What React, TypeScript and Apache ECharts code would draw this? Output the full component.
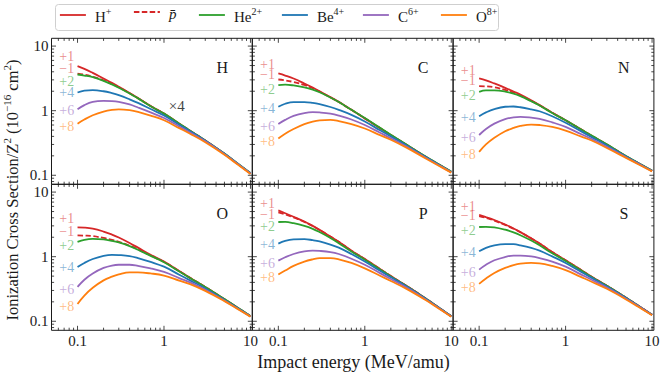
import { useEffect, useRef } from "react";
import * as echarts from "echarts";

// ---------------- data ----------------
const energies = [0.1, 0.12, 0.15, 0.2, 0.25, 0.3, 0.4, 0.5, 0.7, 1, 1.5, 2, 3, 5, 7, 10];
const targets = ["H", "C", "N", "O", "P", "S"];
const projectiles = ["H+", "pbar", "He2+", "Be4+", "C6+", "O8+"];
const chargeLabels = ["+1", "\u22121", "+2", "+4", "+6", "+8"];

// rows: H, C, N, O, P, S targets
const protonXS = [
  [4.9, 4.45, 3.85, 3.15, 2.7, 2.35, 1.88, 1.57, 1.18, 0.9, 0.63, 0.49, 0.345, 0.215, 0.153, 0.107],
  [3.77, 3.5, 3.15, 2.64, 2.28, 2.0, 1.62, 1.37, 1.03, 0.76, 0.537, 0.42, 0.3, 0.195, 0.15, 0.113],
  [3.15, 2.95, 2.64, 2.26, 1.98, 1.78, 1.45, 1.22, 0.93, 0.71, 0.515, 0.41, 0.3, 0.197, 0.153, 0.117],
  [2.84, 2.82, 2.72, 2.45, 2.2, 1.98, 1.63, 1.38, 1.07, 0.84, 0.598, 0.47, 0.34, 0.22, 0.164, 0.12],
  [5.2, 4.7, 4.15, 3.5, 3.0, 2.6, 2.05, 1.7, 1.24, 0.92, 0.644, 0.5, 0.357, 0.228, 0.167, 0.12],
  [4.46, 4.1, 3.7, 3.15, 2.73, 2.4, 1.92, 1.6, 1.18, 0.88, 0.625, 0.49, 0.355, 0.232, 0.173, 0.126],
];
const antiprotonXS = [
  [3.75, 3.6, 3.35, 2.95, 2.6, 2.3, 1.86, 1.56, 1.18, 0.9, 0.63, 0.49, 0.345, 0.215, 0.153, 0.107],
  [3.04, 2.95, 2.78, 2.5, 2.22, 1.97, 1.61, 1.36, 1.03, 0.76, 0.537, 0.42, 0.3, 0.195, 0.15, 0.113],
  [2.4, 2.38, 2.3, 2.1, 1.9, 1.72, 1.42, 1.21, 0.93, 0.71, 0.515, 0.41, 0.3, 0.197, 0.153, 0.117],
  [2.14, 2.12, 2.08, 1.95, 1.82, 1.7, 1.48, 1.3, 1.04, 0.83, 0.598, 0.47, 0.34, 0.22, 0.164, 0.12],
  [4.85, 4.5, 4.05, 3.45, 2.98, 2.6, 2.05, 1.7, 1.24, 0.92, 0.644, 0.5, 0.357, 0.228, 0.167, 0.12],
  [4.26, 3.98, 3.62, 3.1, 2.71, 2.39, 1.92, 1.6, 1.18, 0.88, 0.625, 0.49, 0.355, 0.232, 0.173, 0.126],
];
const heliumXS = [
  [3.63, 3.5, 3.3, 2.9, 2.55, 2.27, 1.85, 1.55, 1.17, 0.9, 0.63, 0.49, 0.347, 0.217, 0.155, 0.109],
  [2.49, 2.53, 2.46, 2.3, 2.12, 1.93, 1.6, 1.36, 1.03, 0.77, 0.544, 0.425, 0.302, 0.197, 0.151, 0.114],
  [1.96, 2.06, 2.06, 1.98, 1.84, 1.68, 1.4, 1.2, 0.92, 0.71, 0.516, 0.412, 0.302, 0.199, 0.154, 0.118],
  [1.69, 1.82, 1.88, 1.85, 1.76, 1.66, 1.46, 1.28, 1.03, 0.82, 0.59, 0.468, 0.34, 0.221, 0.165, 0.121],
  [3.44, 3.45, 3.3, 3.0, 2.7, 2.4, 1.95, 1.62, 1.2, 0.9, 0.634, 0.495, 0.355, 0.227, 0.167, 0.12],
  [2.88, 2.9, 2.85, 2.62, 2.38, 2.15, 1.78, 1.5, 1.13, 0.86, 0.615, 0.485, 0.353, 0.231, 0.172, 0.126],
];
const berylliumXS = [
  [1.91, 2.05, 2.08, 2.0, 1.87, 1.74, 1.5, 1.32, 1.06, 0.84, 0.605, 0.48, 0.342, 0.215, 0.154, 0.108],
  [1.15, 1.28, 1.36, 1.36, 1.32, 1.26, 1.14, 1.03, 0.86, 0.68, 0.498, 0.4, 0.292, 0.193, 0.148, 0.112],
  [0.82, 0.94, 1.06, 1.15, 1.16, 1.13, 1.05, 0.98, 0.82, 0.65, 0.482, 0.39, 0.29, 0.195, 0.152, 0.117],
  [0.69, 0.8, 0.92, 1.03, 1.07, 1.06, 1.02, 0.95, 0.83, 0.7, 0.526, 0.43, 0.322, 0.214, 0.162, 0.12],
  [1.59, 1.75, 1.85, 1.87, 1.8, 1.72, 1.54, 1.38, 1.1, 0.84, 0.605, 0.48, 0.348, 0.225, 0.166, 0.12],
  [1.21, 1.37, 1.5, 1.57, 1.56, 1.5, 1.37, 1.24, 1.01, 0.8, 0.586, 0.47, 0.345, 0.229, 0.171, 0.126],
];
const carbonXS = [
  [1.05, 1.22, 1.37, 1.42, 1.41, 1.37, 1.25, 1.12, 0.94, 0.77, 0.57, 0.46, 0.335, 0.212, 0.152, 0.107],
  [0.62, 0.72, 0.83, 0.92, 0.95, 0.94, 0.9, 0.84, 0.73, 0.6, 0.456, 0.375, 0.28, 0.188, 0.146, 0.111],
  [0.42, 0.52, 0.63, 0.74, 0.79, 0.8, 0.78, 0.75, 0.66, 0.56, 0.436, 0.365, 0.276, 0.19, 0.15, 0.116],
  [0.34, 0.44, 0.55, 0.67, 0.73, 0.75, 0.75, 0.72, 0.66, 0.58, 0.467, 0.4, 0.308, 0.209, 0.159, 0.119],
  [0.87, 0.98, 1.1, 1.21, 1.24, 1.23, 1.18, 1.1, 0.93, 0.75, 0.557, 0.45, 0.335, 0.22, 0.163, 0.119],
  [0.63, 0.75, 0.88, 0.99, 1.04, 1.04, 1.01, 0.95, 0.84, 0.7, 0.533, 0.44, 0.332, 0.224, 0.169, 0.125],
];
const oxygenXS = [
  [0.63, 0.73, 0.85, 0.97, 1.03, 1.05, 1.02, 0.96, 0.84, 0.71, 0.537, 0.44, 0.325, 0.208, 0.149, 0.105],
  [0.37, 0.44, 0.52, 0.62, 0.68, 0.71, 0.72, 0.69, 0.62, 0.53, 0.419, 0.355, 0.27, 0.184, 0.143, 0.11],
  [0.23, 0.3, 0.38, 0.48, 0.54, 0.58, 0.61, 0.6, 0.56, 0.49, 0.399, 0.345, 0.265, 0.186, 0.147, 0.115],
  [0.185, 0.25, 0.33, 0.43, 0.49, 0.53, 0.57, 0.57, 0.55, 0.51, 0.426, 0.375, 0.295, 0.205, 0.157, 0.118],
  [0.53, 0.61, 0.72, 0.84, 0.91, 0.95, 0.95, 0.91, 0.8, 0.66, 0.507, 0.42, 0.32, 0.215, 0.161, 0.118],
  [0.38, 0.46, 0.56, 0.67, 0.74, 0.78, 0.8, 0.79, 0.72, 0.62, 0.487, 0.41, 0.318, 0.218, 0.166, 0.124],
];
// annotation levels (+1, -1, +2, +4, +6, +8) per target, in cross-section units
const chargeLabelLevels = [
  [6.8, 4.5, 2.8, 1.89, 1.0, 0.56],
  [5.2, 3.64, 2.13, 1.1, 0.56, 0.336],
  [4.25, 2.97, 1.72, 0.785, 0.378, 0.21],
  [3.87, 2.46, 1.5, 0.67, 0.309, 0.167],
  [6.76, 4.46, 2.94, 1.53, 0.78, 0.469],
  [5.99, 4.3, 2.55, 1.18, 0.56, 0.328],
];
const chargeLabelEnergy = 0.0615;
const xRange = [0.05, 10.5];
const yRange = [0.0725, 13.2];
const majorTicks = [0.1, 1, 10];
const tickLabelText = ["0.1", "1", "10"];

// ---------------- style / layout ----------------
const allXS = [protonXS, antiprotonXS, heliumXS, berylliumXS, carbonXS, oxygenXS];
const colors = ["#d62728", "#d62728", "#2ca02c", "#1f77b4", "#9467bd", "#ff7f0e"];
const labelColors = [
  "rgba(214,39,40,0.68)", "rgba(214,39,40,0.68)", "rgba(44,160,44,0.68)",
  "rgba(31,119,180,0.68)", "rgba(148,103,189,0.68)", "rgba(255,127,14,0.68)",
];
const FONT = "'Liberation Serif', 'DejaVu Serif', serif";
const INK = "#1a1a1a";
const colLeft = [51.5, 252.3, 453.1];
const rowTop = [38.3, 184.3];
const PW = 200.8;
const PH = 146;
const legendLefts = [59, 133, 198, 281, 362, 440];
const legendRichText: Record<string, string> = {
  "H+": "{n|H}{s|+}",
  pbar: "{i|p\u0304}",
  "He2+": "{n|He}{s|2+}",
  "Be4+": "{n|Be}{s|4+}",
  "C6+": "{n|C}{s|6+}",
  "O8+": "{n|O}{s|8+}",
};

const L = Math.log10;

export default function App() {
  const ref = useRef<HTMLDivElement>(null);
  useEffect(() => {
    if (!ref.current) return;
    const chart = echarts.init(ref.current, undefined, { renderer: "svg" });
    const xMin = L(xRange[0]), xMax = L(xRange[1]);
    const yMin = L(yRange[0]), yMax = L(yRange[1]);

    const xTicks: number[][] = [];
    const yTicks: number[][] = [];
    for (let d = -2; d <= 1; d++) {
      for (let k = 1; k <= 9; k++) {
        const v = k * Math.pow(10, d);
        const lv = L(v);
        if (lv > xMin + 1e-6 && lv < xMax - 1e-6) xTicks.push([lv, 0, k === 1 ? 1 : 0]);
        if (lv > yMin + 1e-6 && lv < yMax - 1e-6) yTicks.push([lv, 1, k === 1 ? 1 : 0]);
      }
    }
    const tickData = [...xTicks, ...yTicks];

    const grids: any[] = [];
    const xAxes: any[] = [];
    const yAxes: any[] = [];
    const series: any[] = [];
    const graphics: any[] = [];

    const labelFmt = (v: number) => {
      const idx = majorTicks.findIndex((m) => Math.abs(L(m) - v) < 1e-6);
      return idx >= 0 ? tickLabelText[idx] : "";
    };

    targets.forEach((t, ti) => {
      const col = ti % 3, row = Math.floor(ti / 3);
      grids.push({
        left: colLeft[col], top: rowTop[row], width: PW, height: PH,
        show: true, borderColor: INK, borderWidth: 1, backgroundColor: "transparent",
      });
      xAxes.push({
        type: "value", gridIndex: ti, min: xMin, max: xMax,
        axisLine: { show: false }, axisTick: { show: false }, splitLine: { show: false },
        axisLabel: {
          show: row === 1, customValues: majorTicks.map(L), formatter: labelFmt,
          margin: 3, fontFamily: FONT, fontSize: 15, color: INK,
        },
      });
      yAxes.push({
        type: "value", gridIndex: ti, min: yMin, max: yMax,
        axisLine: { show: false }, axisTick: { show: false }, splitLine: { show: false },
        axisLabel: {
          show: col === 0, customValues: majorTicks.map(L), formatter: labelFmt,
          margin: 3, fontFamily: FONT, fontSize: 15, color: INK,
        },
      });
      allXS.forEach((arr, pi) => {
        series.push({
          type: "line", name: projectiles[pi], xAxisIndex: ti, yAxisIndex: ti,
          data: energies.map((e, k) => [L(e), L(arr[ti][k])]),
          symbol: "none", showSymbol: false, smooth: 0.4,
          lineStyle: { color: colors[pi], width: 1.8, type: pi === 1 ? [5.5, 2.4] : "solid" },
          itemStyle: { color: colors[pi] },
          z: 2 + pi, silent: true,
        });
      });
      series.push({
        type: "scatter", xAxisIndex: ti, yAxisIndex: ti, symbolSize: 0, silent: true, z: 10,
        data: chargeLabelLevels[ti].map((v, k) => ({
          value: [L(chargeLabelEnergy), L(v)],
          label: { color: labelColors[k] },
        })),
        label: {
          show: true, position: "right", distance: 0,
          formatter: (p: any) => chargeLabels[p.dataIndex],
          fontFamily: FONT, fontSize: 14, lineHeight: 10,
        },
      });
      series.push({
        type: "custom", xAxisIndex: ti, yAxisIndex: ti, silent: true, clip: false, z: 20,
        data: tickData,
        renderItem: (params: any, api: any) => {
          const pos = api.value(0), orient = api.value(1), major = api.value(2);
          const cs = params.coordSys;
          const len = major ? 4.5 : 2.6;
          const style = { stroke: INK, lineWidth: 0.8 };
          if (orient === 0) {
            const px = api.coord([pos, yMin])[0];
            const b = cs.y + cs.height, tp = cs.y;
            return {
              type: "group", children: [
                { type: "line", shape: { x1: px, y1: b, x2: px, y2: b - len }, style },
                { type: "line", shape: { x1: px, y1: tp, x2: px, y2: tp + len }, style },
              ],
            };
          }
          const py = api.coord([xMin, pos])[1];
          const l = cs.x, r = cs.x + cs.width;
          return {
            type: "group", children: [
              { type: "line", shape: { x1: l, y1: py, x2: l + len, y2: py }, style },
              { type: "line", shape: { x1: r, y1: py, x2: r - len, y2: py }, style },
            ],
          };
        },
      });
      graphics.push({
        type: "text", x: colLeft[col] + PW - 30, y: rowTop[row] + 29,
        style: { text: t, font: `16px ${FONT}`, fill: INK, align: "center", verticalAlign: "middle", textAlign: "center", textVerticalAlign: "middle" },
      });
    });

    // "x4" annotation in the H panel
    graphics.push({
      type: "text", x: 176.7, y: 106,
      style: { text: "\u00d74", font: `15px ${FONT}`, fill: "#444", align: "center", verticalAlign: "middle", textAlign: "center", textVerticalAlign: "middle" },
    });
    // legend frame
    graphics.push({
      type: "rect", z: -1,
      shape: { x: 55.5, y: 4.5, width: 443, height: 26, r: 3 },
      style: { fill: "#fff", stroke: "#cfcfcf", lineWidth: 1 },
    });
    // axis titles
    graphics.push({
      type: "text", x: 353.5, y: 362,
      style: { text: "Impact energy (MeV/amu)", font: `18px ${FONT}`, fill: INK, align: "center", verticalAlign: "middle", textAlign: "center", textVerticalAlign: "middle" },
    });
    graphics.push({
      type: "text", x: 11, y: 190, rotation: Math.PI / 2,
      style: {
        text: "{n|Ionization Cross Section/Z}{s|2}{n| (10}{s|\u221216}{n| cm}{s|2}{n|)}",
        fill: INK, align: "center", verticalAlign: "middle", textAlign: "center", textVerticalAlign: "middle",
        rich: {
          n: { fontFamily: FONT, fontSize: 16.5, lineHeight: 19, verticalAlign: "bottom", fill: INK, color: INK },
          s: { fontFamily: FONT, fontSize: 11, lineHeight: 11, verticalAlign: "top", fill: INK, color: INK },
        },
      },
    });

    const legendRich = {
      n: { fontFamily: FONT, fontSize: 15, lineHeight: 18, verticalAlign: "bottom", color: INK },
      s: { fontFamily: FONT, fontSize: 10, lineHeight: 10, verticalAlign: "top", color: INK },
      i: { fontFamily: FONT, fontSize: 15, lineHeight: 18, fontStyle: "italic", verticalAlign: "bottom", color: INK },
    };
    const legends = projectiles.map((p, i) => ({
      data: [p], left: legendLefts[i], top: 6, itemWidth: 26, itemHeight: 14,
      itemGap: 0, padding: 0, selectedMode: false, z: 5,
      itemStyle: { color: "rgba(0,0,0,0)", borderColor: "rgba(0,0,0,0)", borderWidth: 0, opacity: 0 },
      lineStyle: { width: 1.8 },
      formatter: (name: string) => legendRichText[name],
      textStyle: { rich: legendRich, padding: [0, 0, 0, 4] },
    }));

    chart.setOption({
      animation: false,
      backgroundColor: "#fff",
      grid: grids,
      xAxis: xAxes,
      yAxis: yAxes,
      legend: legends,
      series,
      graphic: graphics,
    });
    return () => chart.dispose();
  }, []);
  return (
    <div
      ref={ref}
      style={{ position: "fixed", left: 0, top: 0, width: 665, height: 377, background: "#fff" }}
    />
  );
}
